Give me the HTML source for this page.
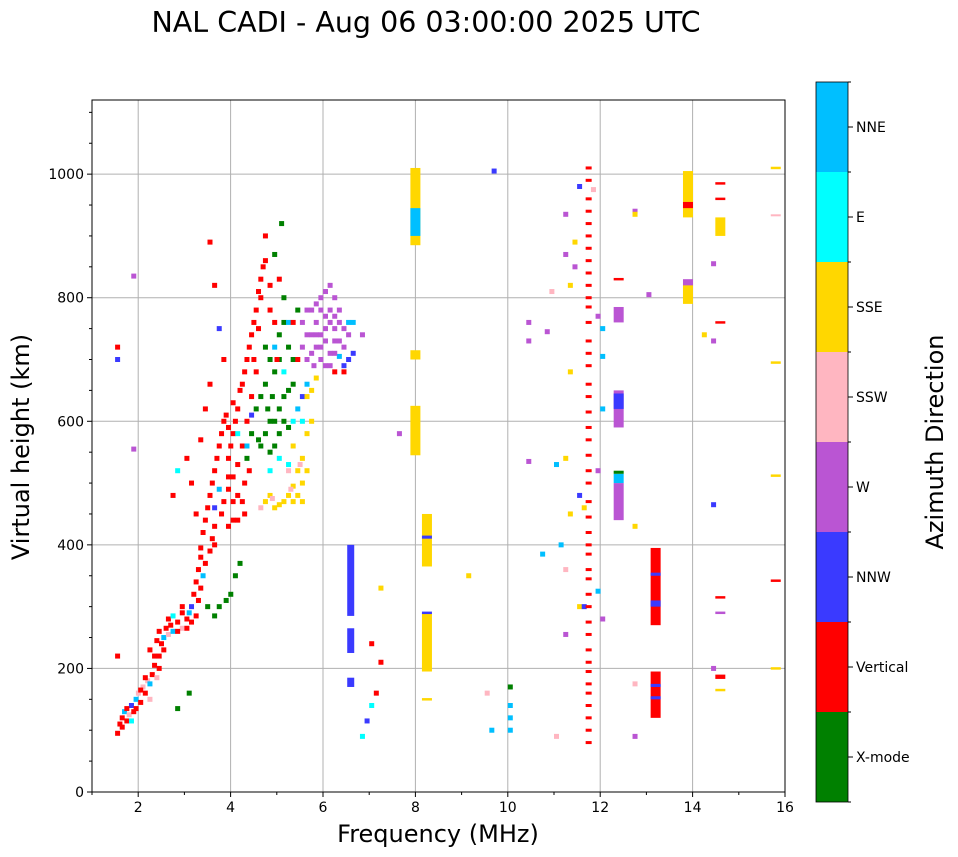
<!DOCTYPE html>
<html><head><meta charset="utf-8"><style>
body{margin:0;background:#fff;font-family:"DejaVu Sans","Liberation Sans",sans-serif}
svg{display:block}
</style></head><body>
<svg id="chart" width="958" height="857">
<text x="426" y="32" font-size="28.5" text-anchor="middle">NAL CADI - Aug 06 03:00:00 2025 UTC</text>
<g id="grid"></g><g id="marks"></g><g id="axes"></g><g id="cbar"></g>
</svg>
<script>
const colors=["#008000","#ff0000","#3a3aff","#ba55d3","#ffb6c1","#ffd700","#00ffff","#00bfff"];
const directions=["X-mode","Vertical","NNW","W","SSW","SSE","E","NNE"];
const xTicks=[2,4,6,8,10,12,14,16];
const yTicks=[0,200,400,600,800,1000];
const scatter=[[1.5,95,1],[1.55,110,1],[1.6,120,1],[1.65,130,7],[1.7,115,1],[1.75,125,4],[1.8,140,2],[1.85,130,1],[1.9,150,7],[1.95,160,4],[2.0,145,1],[2.05,170,4],[2.1,160,1],[2.15,180,4],[2.2,175,7],[2.25,190,1],[2.3,205,1],[2.35,185,4],[2.4,220,1],[2.45,240,1],[2.5,250,7],[2.55,265,1],[2.6,255,4],[2.65,270,1],[2.7,260,7],[2.8,275,1],[2.9,265,4],[3.0,280,1],[3.05,290,7],[3.1,300,2],[3.2,285,1],[3.25,310,1],[3.3,330,1],[3.35,350,7],[3.4,370,1],[3.45,300,0],[3.5,390,1],[3.55,410,1],[3.6,285,0],[3.6,430,1],[3.7,300,0],[3.75,450,1],[3.8,470,1],[3.85,310,0],[3.9,490,1],[3.95,320,0],[4.0,440,1],[4.0,510,1],[4.05,350,0],[4.1,530,1],[4.15,370,0],[4.2,560,1],[4.25,450,1],[4.3,600,1],[4.35,520,1],[4.4,640,1],[4.45,700,1],[4.5,680,1],[4.55,750,1],[4.6,800,1],[4.65,850,1],[4.7,900,1],[4.8,780,1],[4.9,870,0],[5.0,830,1],[5.05,920,0],[3.3,570,1],[3.4,620,1],[3.5,660,1],[3.6,820,1],[3.5,890,1],[3.7,750,2],[3.8,700,1],[3.9,590,1],[4.0,630,1],[2.7,480,1],[2.8,520,6],[3.0,540,1],[3.1,500,1],[3.2,450,1],[2.2,230,1],[2.4,200,1],[2.9,300,1],[3.3,380,1],[3.6,400,1],[3.9,430,1],[4.1,480,1],[4.3,560,7],[4.4,610,2],
[4.6,560,0],[4.7,580,0],[4.8,550,0],[4.9,600,0],[5.0,620,0],[5.1,640,0],[5.2,590,0],[4.55,570,0],[4.75,620,0],[4.85,640,0],[5.0,700,0],[5.1,760,0],[5.2,720,0],[4.9,680,0],[5.3,660,0],[5.4,780,0],[4.8,520,6],[5.0,540,6],[5.2,530,6],[5.3,600,6],[5.1,680,6],
[4.7,470,5],[4.8,480,5],[4.9,460,5],[5.0,465,5],[5.1,470,5],[5.2,480,5],[5.3,495,5],[5.4,520,5],[5.5,540,5],[5.6,580,5],[5.7,650,5],[5.8,670,5],[4.6,460,4],[4.85,475,4],[5.25,490,4],[5.45,530,4],
[5.5,760,3],[5.6,780,3],[5.7,740,3],[5.8,720,3],[5.9,700,3],[6.0,690,3],[6.1,710,3],[6.2,730,3],[6.3,760,3],[6.2,800,3],[5.9,800,3],[6.0,770,3],[5.75,690,3],[6.4,720,3],[6.5,700,2],[6.4,690,2],[6.3,705,7],[6.5,760,7],[6.2,680,1],[6.4,680,1],[6.1,820,3],[6.0,810,3],[5.6,700,3],[5.8,790,3],[6.2,750,3],[6.3,780,3],[5.9,740,3],[6.1,760,3],[5.7,780,3],
[1.5,220,1],[1.5,700,2],[1.5,720,1],[1.85,835,3],[1.85,555,3],[3.05,160,0],[2.8,135,0],[7.0,240,1],[7.2,210,1],[7.2,330,5],[7.1,160,1],[6.9,115,2],[6.8,90,6],[7.0,140,6],[7.6,580,3],[9.1,350,5],[9.5,160,4],[9.65,1005,2],[9.6,100,7],[10.0,170,0],[10.0,100,7],[10.0,120,7],[10.0,140,7],[10.4,760,3],[10.4,730,3],[10.4,535,3],[10.7,385,7],[10.8,745,3],[10.9,810,4],[11.0,90,4],[11.2,935,3],[11.2,870,3],[11.3,820,5],[11.3,680,5],[11.3,450,5],[11.4,890,5],[11.4,850,3],[11.5,980,2],[11.5,480,2],[11.5,300,5],[11.6,460,5],[11.6,300,2],[11.9,770,3],[11.9,520,3],[11.9,325,7],[12.0,750,7],[12.0,705,7],[12.0,620,7],[12.0,280,3],[11.8,975,4],[12.7,940,3],[12.7,935,5],[12.7,430,5],[12.7,175,4],[12.7,90,3],[13.0,805,3],[14.2,740,5],[14.4,855,3],[14.4,730,3],[14.4,465,2],[14.4,200,3],[11.2,360,4],[11.1,400,7],[11.2,540,5],[11.2,255,3],[11.0,530,7]];
const scatterExtra=[[1.6,105,1],[1.7,135,1],[1.8,115,6],[1.9,135,1],[2.0,165,1],[2.1,185,1],[2.2,150,4],[2.3,220,1],[2.35,245,1],[2.4,260,1],[2.5,230,1],[2.6,280,1],[2.7,285,6],[2.8,260,1],[2.9,290,1],[3.0,265,1],[3.1,275,1],[3.15,320,1],[3.2,340,1],[3.25,360,1],[3.3,395,1],[3.35,420,1],[3.4,440,1],[3.45,460,1],[3.5,480,1],[3.55,500,1],[3.6,520,1],[3.65,540,1],[3.7,560,1],[3.75,580,1],[3.8,600,1],[3.85,610,1],[3.9,540,1],[3.95,560,1],[4.0,580,1],[4.05,600,1],[4.1,620,1],[4.15,650,1],[4.2,660,1],[4.25,680,1],[4.3,700,1],[4.35,720,1],[4.4,740,1],[4.45,760,1],[4.5,780,1],[4.55,810,1],[4.6,830,1],[4.7,860,1],[4.8,820,1],[4.9,760,1],[4.95,700,1],[4.25,500,1],[4.2,470,1],[4.1,440,1],[3.6,460,2],[3.7,490,7],[3.9,510,1],[4.0,470,1],[4.1,580,6],[4.3,540,0],[4.4,580,0],[4.5,620,0],[4.6,640,0],[4.7,660,0],[4.8,600,0],[4.9,560,0],[5.0,580,0],[5.1,600,0],[5.2,650,0],[5.3,700,0],[5.0,740,0],[5.1,800,0],[4.8,700,0],[4.7,720,0],[4.9,720,7],[5.2,760,7],[5.3,760,1],[5.4,700,1],[5.5,640,2],[5.6,660,7],[5.4,620,7],[5.5,600,6],[5.3,560,5],[5.5,500,5],[5.6,520,5],[5.7,600,5],[5.2,520,4],[5.3,470,5],[5.4,480,5],[5.5,470,5],[5.6,640,5],[5.5,720,3],[5.6,740,3],[5.7,710,3],[5.8,760,3],[5.9,780,3],[6.0,730,3],[6.1,690,3],[6.2,710,3],[6.3,730,3],[6.4,750,3],[6.5,740,3],[5.9,720,3],[6.0,750,3],[6.1,780,3],[6.2,770,3],[5.8,740,3],[6.6,710,2],[6.8,740,3],[6.6,760,7]];
const column=[[6.6,285,400,2],[6.6,225,265,2],[6.6,170,185,2],[8.0,885,1010,5],[8.0,900,945,7],[8.0,545,625,5],[8.0,700,715,5],[8.25,365,450,5],[8.25,195,290,5],[8.25,288,292,2],[8.25,410,415,2],[8.25,148,152,5],[12.4,760,785,3],[12.4,590,650,3],[12.4,620,645,2],[12.4,440,500,3],[12.4,500,515,7],[12.4,515,520,0],[12.4,828,832,1],[13.2,270,395,1],[13.2,300,310,2],[13.2,350,355,2],[13.2,120,195,1],[13.2,150,155,2],[13.2,170,175,2],[13.9,930,1005,5],[13.9,945,955,1],[13.9,800,830,3],[13.9,790,820,5],[14.6,983,987,1],[14.6,958,962,1],[14.6,900,930,5],[14.6,758,762,1],[14.6,313,317,1],[14.6,288,292,3],[14.6,183,190,1],[14.6,163,167,5],[15.8,1008,1012,5],[15.8,693,697,5],[15.8,510,514,5],[15.8,198,202,5],[15.8,340,344,1],[15.8,933,935,4]];
const redDashes=[80,100,120,140,160,175,195,210,230,255,275,300,320,345,360,385,400,420,445,470,500,520,545,570,590,615,640,660,690,710,730,760,785,800,820,840,860,880,900,920,940,960,990,1010];
const X0=92,X1=785,Y0=792,Y1=100,FMIN=1,FMAX=16,HMAX=1120;
const xs=f=>X0+(f-FMIN)/(FMAX-FMIN)*(X1-X0);
const ys=h=>Y0-h/HMAX*(Y0-Y1);
const NS="http://www.w3.org/2000/svg";
function mk(p,t,a){const e=document.createElementNS(NS,t);for(const k in a)e.setAttribute(k,a[k]);document.getElementById(p).appendChild(e);return e;}
xTicks.forEach(f=>{const l=mk("grid","line",{x1:xs(f),x2:xs(f),y1:Y1,y2:Y0,stroke:"#b0b0b0","stroke-width":1});

});
yTicks.forEach(h=>{const l=mk("grid","line",{x1:X0,x2:X1,y1:ys(h),y2:ys(h),stroke:"#b0b0b0","stroke-width":1});

});
scatter.concat(scatterExtra).forEach(d=>{const r=mk("marks","rect",{x:xs(d[0]),y:ys(d[1])-2.5,width:5,height:5,fill:colors[d[2]]});

});
column.forEach(d=>{const top=ys(d[2]),bot=ys(d[1]);const w=d[0]===6.6?7:10;const r=mk("marks","rect",{x:xs(d[0])-w/2,y:top,width:w,height:Math.max(2,bot-top),fill:colors[d[3]]});

});
redDashes.forEach(h=>{const r=mk("marks","rect",{x:xs(11.75)-3,y:ys(h)-1.5,width:6,height:3,fill:colors[1]});

});
const fr=mk("axes","rect",{x:X0,y:Y1,width:X1-X0,height:Y0-Y1,fill:"none",stroke:"#000","stroke-width":1});


xTicks.forEach(f=>{mk("axes","line",{x1:xs(f),x2:xs(f),y1:Y0,y2:Y0+5,stroke:"#000"});
const t=mk("axes","text",{x:xs(f),y:Y0+20,"font-size":14,"text-anchor":"middle"});t.textContent=f;

});
for(let f=1;f<=16;f++){if(f%2)mk("axes","line",{x1:xs(f),x2:xs(f),y1:Y0,y2:Y0+3,stroke:"#000"});}
yTicks.forEach(h=>{mk("axes","line",{x1:X0-5,x2:X0,y1:ys(h),y2:ys(h),stroke:"#000"});
const t=mk("axes","text",{x:X0-8,y:ys(h)+5,"font-size":14,"text-anchor":"end"});t.textContent=h;

});
for(let h=50;h<1120;h+=50){if(h%200)mk("axes","line",{x1:X0-3,x2:X0,y1:ys(h),y2:ys(h),stroke:"#000"});}
const xl=mk("axes","text",{x:438,y:842,"font-size":24,"text-anchor":"middle"});xl.textContent="Frequency (MHz)";


const yl=mk("axes","text",{x:29,y:447,"font-size":24,"text-anchor":"middle",transform:"rotate(-90 29 447)"});yl.textContent="Virtual height (km)";


const CB0=802,SEG=90;
directions.forEach((d,i)=>{const y=CB0-(i+1)*SEG;
const r=mk("cbar","rect",{x:816,y:y,width:32,height:SEG,fill:colors[i]});


mk("cbar","line",{x1:848,x2:853,y1:y+SEG/2,y2:y+SEG/2,stroke:"#000"});
mk("cbar","line",{x1:848,x2:851,y1:y,y2:y,stroke:"#000"});
const t=mk("cbar","text",{x:856,y:y+SEG/2+5,"font-size":14});t.textContent=d;

});
mk("cbar","line",{x1:848,x2:851,y1:CB0,y2:CB0,stroke:"#000"});
mk("cbar","rect",{x:816,y:CB0-8*SEG,width:32,height:8*SEG,fill:"none",stroke:"#000","stroke-width":0.8});
const ct=mk("cbar","text",{x:943,y:442,"font-size":24,"text-anchor":"middle",transform:"rotate(-90 943 442)"});ct.textContent="Azimuth Direction";


</script>
</body></html>
